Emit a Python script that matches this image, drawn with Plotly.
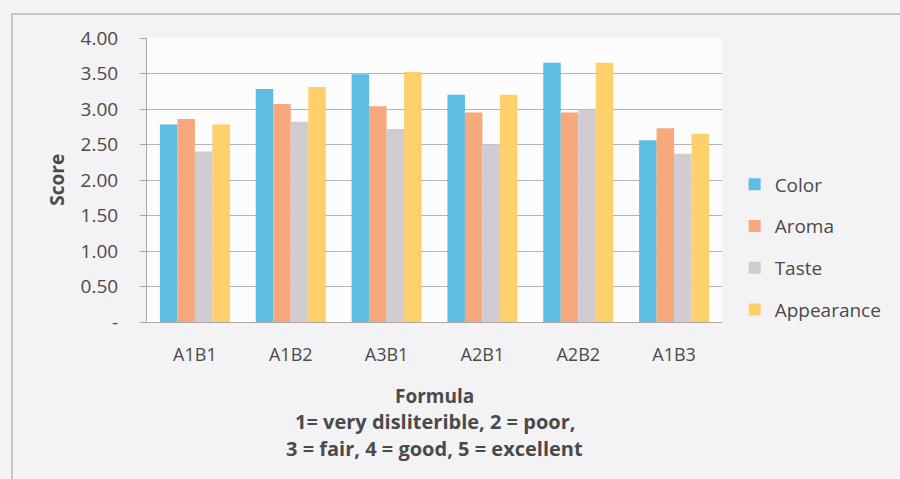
import plotly.graph_objects as go

categories = ["A1B1", "A1B2", "A3B1", "A2B1", "A2B2", "A1B3"]
color_vals = [2.78, 3.28, 3.49, 3.20, 3.65, 2.56]
aroma_vals = [2.86, 3.07, 3.04, 2.95, 2.95, 2.73]
taste_vals = [2.40, 2.82, 2.72, 2.50, 2.99, 2.37]
appear_vals = [2.78, 3.31, 3.52, 3.20, 3.65, 2.65]
series_names = ["Color", "Aroma", "Taste", "Appearance"]
series_colors = ["#5dbde2", "#f7a87c", "#d0ccd2", "#fdd06c"]
ytick_vals = [0, 0.5, 1.0, 1.5, 2.0, 2.5, 3.0, 3.5, 4.0]
ytick_text = ["-", "0.50", "1.00", "1.50", "2.00", "2.50", "3.00", "3.50", "4.00"]

FONT = "Open Sans, Lato, sans-serif"
TXT = "#4a4a4a"

fig = go.Figure()
for name, vals, col in zip(series_names, [color_vals, aroma_vals, taste_vals, appear_vals], series_colors):
    fig.add_trace(go.Bar(x=categories, y=vals, name=name, marker_color=col,
                         marker_line_width=0, legendgroup=name))

fig.update_layout(
    width=900, height=479,
    margin=dict(l=147, r=178, t=38, b=157, autoexpand=False),
    paper_bgcolor="#f3f3f5",
    plot_bgcolor="#fcfcfc",
    barmode="group", bargap=0.27, bargroupgap=0,
    font=dict(family=FONT, color=TXT),
    showlegend=True,
    legend=dict(x=1.022, y=0.264, xanchor="left", yanchor="middle",
                font=dict(size=19, color=TXT), tracegroupgap=14,
                itemwidth=30, bgcolor="rgba(0,0,0,0)"),
)
fig.update_yaxes(range=[0, 4], tickvals=ytick_vals, ticktext=ytick_text,
                 showgrid=True, gridcolor="#b4b4b4", gridwidth=1,
                 showline=True, linecolor="#a8a8a8", linewidth=1,
                 ticks="outside", ticklen=6, tickcolor="#a8a8a8",
                 tickfont=dict(size=19, color=TXT), ticklabelstandoff=18,
                 zeroline=False, automargin=False)
fig.update_xaxes(showline=True, linecolor="#a8a8a8", linewidth=1,
                 tickfont=dict(size=18, color=TXT), ticklabelstandoff=16,
                 automargin=False)

annos = [
    dict(text="<b>Score</b>", x=-0.157, y=0.5, textangle=-90, font=dict(size=19)),
    dict(text="<b>Formula</b>", x=0.5, y=-0.26, font=dict(size=19)),
    dict(text="<b>1= very disliterible, 2 = poor,</b>", x=0.5, y=-0.352, font=dict(size=20)),
    dict(text="<b>3 = fair, 4 = good, 5 = excellent</b>", x=0.5, y=-0.444, font=dict(size=20)),
]
for a in annos:
    fig.add_annotation(xref="paper", yref="paper", showarrow=False,
                       xanchor="center", yanchor="middle", **a)

fig.add_shape(type="rect", xref="paper", yref="paper",
              x0=-0.2348, y0=-1.0, x1=1.6, y1=1.0845,
              line=dict(color="#9a9a9a", width=1), fillcolor="rgba(0,0,0,0)",
              layer="below")

fig.write_html("out.html")
